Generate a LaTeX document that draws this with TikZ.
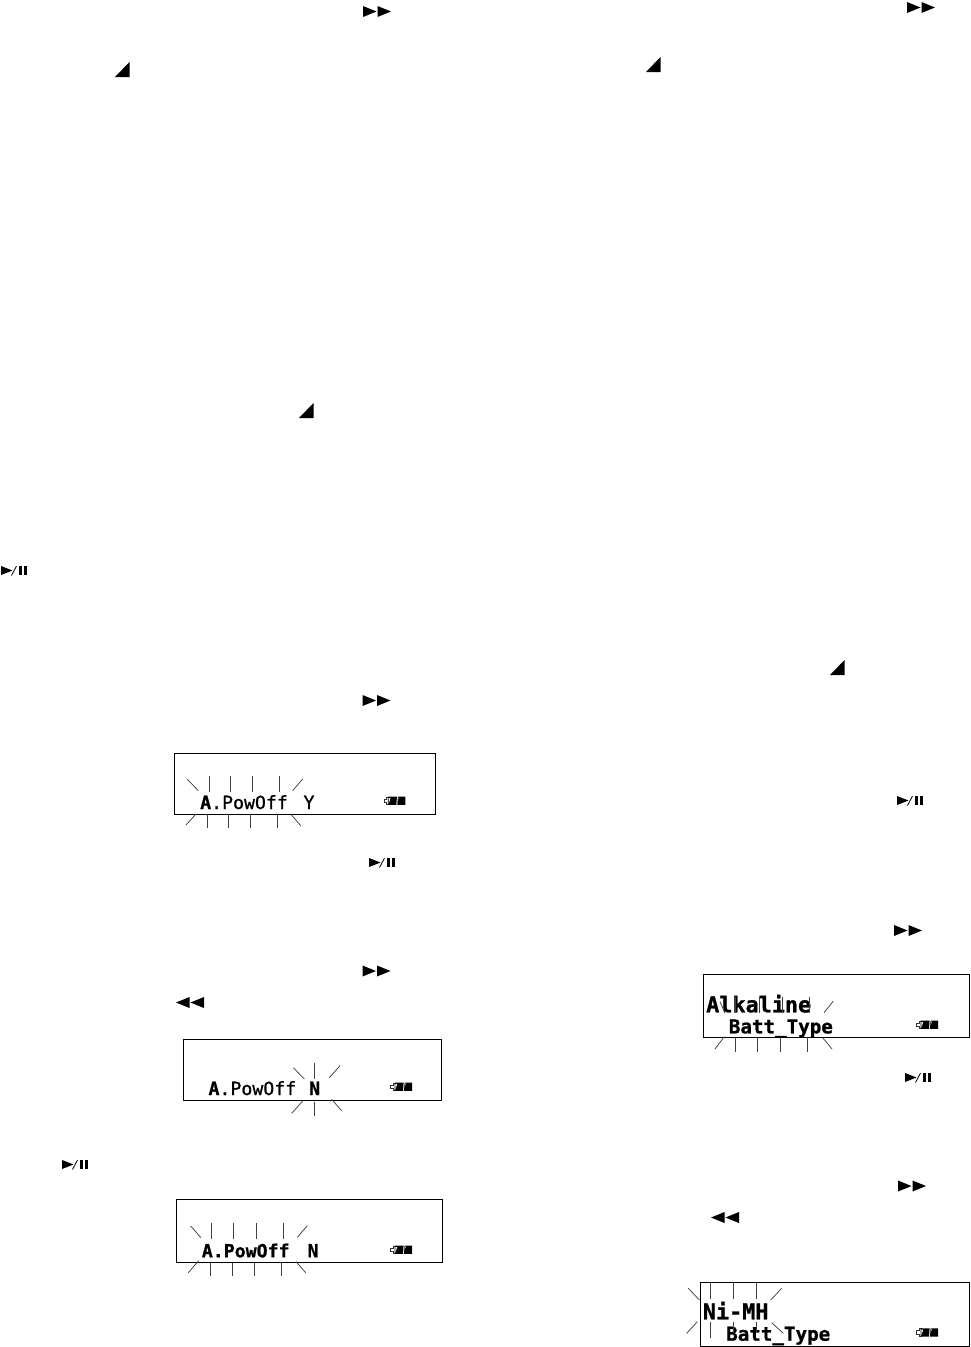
\documentclass[tikz,border=0pt]{standalone}
\usepackage{fontspec}
\newfontfamily\lcdfont[FakeBold=1]{DejaVu Sans Mono}
\tikzset{
  x=1pt,y=-1pt,
  lcdbox/.style={draw=black,line width=0.9pt,fill=white},
  ray/.style={draw=black!75,line width=0.75pt},
  lcdtext/.style={inner sep=0pt,anchor=base west,text=black},
  glyph/.style={fill=black,draw=none},
  zoomed/.style={x=0.33333pt,y=-0.33333pt},
  pics/ff/.style={code={
    \fill[glyph] (0,0)--(13.5,5.5)--(0,11)--cycle;
    \fill[glyph] (14.5,0)--(28,5.5)--(14.5,11)--cycle;}},
  pics/rew/.style={code={
    \fill[glyph] (13.5,0)--(0,5.5)--(13.5,11)--cycle;
    \fill[glyph] (28,0)--(14.5,5.5)--(28,11)--cycle;}},
  pics/ramp/.style={code={
    \fill[glyph] (14.5,0)--(14.5,15)--(0,15)--cycle;}},
  pics/playpause/.style={code={
    \fill[glyph] (0,0)--(11.5,4.5)--(0,9)--cycle;
    \draw[black,line width=0.8pt] (10.5,9.5)--(15.5,0);
    \fill[glyph] (17.8,0) rectangle (21.3,9.3);
    \fill[glyph] (22.8,0) rectangle (26.3,9.3);}},
  pics/batt/.style={code={
    \draw[black!80,line width=0.7pt] (6,0.5)--(3,0.5)--(3,2.4)--(0.6,2.4)--(0.6,5.8)--(3,5.8)--(3,7.8)--(6,7.8);
    \fill[glyph] (4.5,0)--(13.6,0)--(13,8.3)--(4.5,8.3)--cycle;
    \fill[glyph] (14.6,0)--(22,0)--(22,8.3)--(14,8.3)--cycle;
    \fill[white] (5.4,1.4)--(7.2,1.4)--(5.4,6.9)--cycle;
    \fill[white] (15.2,1)--(16,1)--(15.2,2.6)--cycle;}},
}
\newcommand{\lcdreg}{\lcdfont\fontsize{18.2}{18.2}\selectfont}
\newcommand{\lcdbig}{\lcdfont\fontsize{21.8}{21.8}\selectfont}
\newcommand{\lcdmid}{\lcdfont\fontsize{19.2}{19.2}\selectfont}
\begin{document}
\begin{tikzpicture}
\useasboundingbox (0,0) rectangle (971,1347);
\fill[white] (0,0) rectangle (971,1347);
% icons
\pic at (363,6) {ff};
\pic at (907,2) {ff};
\pic at (362.5,695) {ff};
\pic at (362.5,965.5) {ff};
\pic at (894,925) {ff};
\pic at (898,1180.5) {ff};
\pic at (176,997) {rew};
\pic at (711,1212) {rew};
\pic at (115,62) {ramp};
\pic at (299,403) {ramp};
\pic at (646,57) {ramp};
\pic at (830,660) {ramp};
\pic at (1,566) {playpause};
\pic at (369,858) {playpause};
\pic at (62,1160) {playpause};
\pic at (897,796) {playpause};
\pic at (905,1073) {playpause};
% LCD 1
\begin{scope}[shift={(170,745)},zoomed]
\draw[lcdbox] (13,25) rectangle (797,207);
\node[lcdtext] (t1) at (90,192) {\lcdreg\textbf{A}.PowOff};
\node[lcdtext] (t1b) at (400,192) {\lcdreg Y};
\pic[scale=3] at (640,155) {batt};
\foreach \a/\b/\c/\d in {52/103/85/137,117/93/117/142,180/93/180/142,247/93/247/142,327/93/327/142,398/102/368/137,48/240/78/207,111/207/111/248,176/207/176/248,242/207/242/248,321/207/321/248,392/242/363/208}
  \draw[ray] (\a,\b)--(\c,\d);
\end{scope}
% LCD 2
\begin{scope}[shift={(170,1030)},zoomed]
\draw[lcdbox] (40,28) rectangle (813,210);
\node[lcdtext] (t2) at (115,195) {\lcdreg\textbf{A}.PowOff};
\node[lcdtext] (t2b) at (417,195) {\lcdreg\textbf{N}};
\pic[scale=3] at (660,158) {batt};
\foreach \a/\b/\c/\d in {370/113/403/147,433/98/433/148,510/107/478/143,365/250/398/213,433/215/433/257,515/242/485/208}
  \draw[ray] (\a,\b)--(\c,\d);
\end{scope}
% LCD 3
\begin{scope}[shift={(170,1190)},zoomed]
\draw[lcdbox] (19,28) rectangle (818,217);
\node[lcdtext] (t3) at (95,202) {\lcdreg\textbf{A.PowOff}};
\node[lcdtext] (t3b) at (412,202) {\lcdreg\textbf{N}};
\pic[scale=3] at (660,167) {batt};
\foreach \a/\b/\c/\d in {62/108/93/143,123/98/123/148,190/98/190/148,259/98/259/148,340/98/340/148,412/107/382/142,55/248/86/212,120/218/120/257,186/218/186/257,253/218/253/257,334/218/334/257,407/248/378/215}
  \draw[ray] (\a,\b)--(\c,\d);
\end{scope}
% LCD 4
\begin{scope}[shift={(680,965)},zoomed]
\draw[lcdbox] (70,28) rectangle (868,217);
\node[lcdtext] (t4) at (78,142) {\lcdbig\textbf{Alkaline}};
\node[lcdtext] (t4b) at (146,205) {\lcdmid\textbf{Batt\_Type}};
\pic[scale=3] at (708,167) {batt};
\foreach \a/\b/\c/\d in {120/110/135/145,166/95/166/145,237/95/237/145,306/95/306/145,388/95/388/145,460/108/432/143,105/252/133/215,167/215/167/260,233/215/233/260,301/215/301/260,382/215/382/260,456/252/428/218}
  \draw[ray] (\a,\b)--(\c,\d);
\end{scope}
% LCD 5
\begin{scope}[shift={(680,1270)},zoomed]
\draw[lcdbox] (62,37) rectangle (868,228);
\node[lcdtext] (t5) at (68,148) {\lcdbig\textbf{Ni-MH}};
\node[lcdtext] (t5b) at (138,212) {\lcdmid\textbf{Batt\_Type}};
\pic[scale=3] at (708,175) {batt};
\foreach \a/\b/\c/\d in {25/55/58/90,92/40/92/88,160/40/160/88,228/40/228/88,305/55/272/90,20/190/52/155,92/155/92/205,160/155/160/190,228/155/228/190,310/190/275/158}
  \draw[ray] (\a,\b)--(\c,\d);
\end{scope}
\end{tikzpicture}
\end{document}
